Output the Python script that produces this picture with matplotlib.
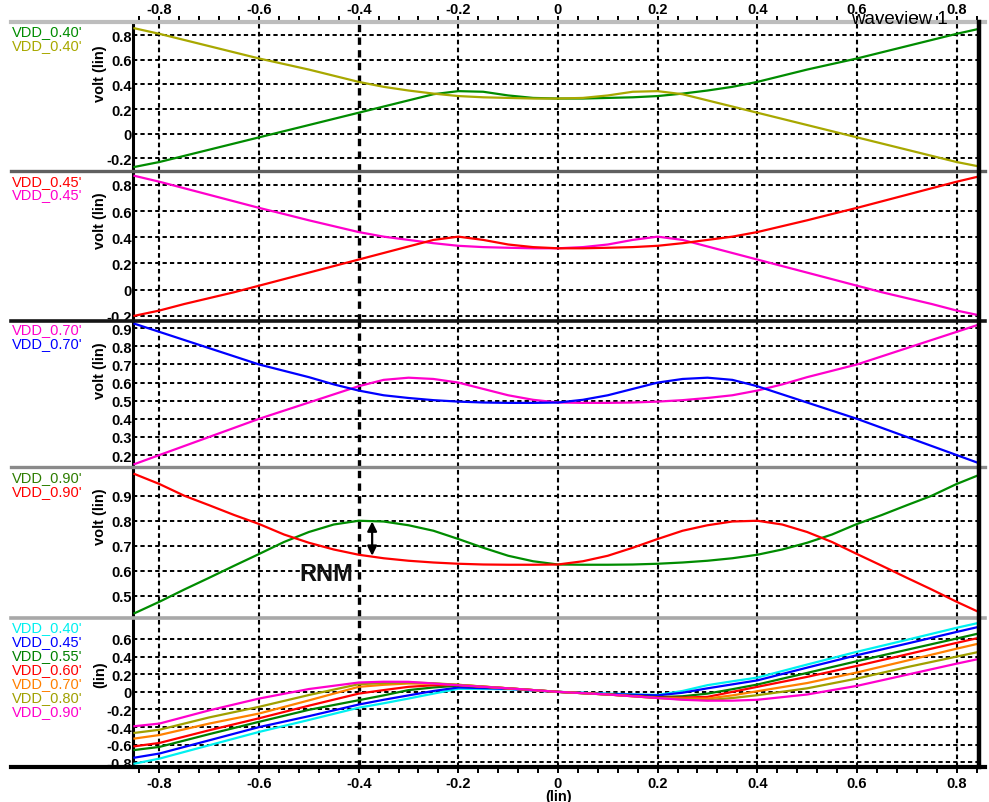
import matplotlib
matplotlib.use("Agg")
import matplotlib.pyplot as plt
from matplotlib.lines import Line2D
from matplotlib.ticker import MultipleLocator, FixedLocator, FuncFormatter

plt.rcParams['font.family'] = ['Liberation Sans', 'DejaVu Sans']
plt.rcParams['axes.unicode_minus'] = False

# ---------------- data ----------------
x_grid = [-0.85, -0.8, -0.75, -0.7, -0.65, -0.6, -0.55, -0.5, -0.45, -0.4, -0.35,
          -0.3, -0.25, -0.2, -0.15, -0.1, -0.05, 0.0, 0.05, 0.1, 0.15, 0.2, 0.25,
          0.3, 0.35, 0.4, 0.45, 0.5, 0.55, 0.6, 0.65, 0.7, 0.75, 0.8, 0.85]

# VDD = 0.40
v040_fall = [0.855, 0.81, 0.76, 0.71, 0.66, 0.61, 0.565, 0.52, 0.47, 0.42, 0.38, 0.35,
             0.325, 0.305, 0.295, 0.29, 0.285, 0.285, 0.29, 0.31, 0.34, 0.345, 0.32, 0.27,
             0.22, 0.17, 0.12, 0.07, 0.02, -0.03, -0.08, -0.13, -0.18, -0.23, -0.27]
v040_rise = [-0.27, -0.23, -0.18, -0.13, -0.08, -0.03, 0.02, 0.07, 0.12, 0.17, 0.22, 0.27,
             0.32, 0.345, 0.34, 0.31, 0.29, 0.285, 0.285, 0.29, 0.295, 0.305, 0.325, 0.35,
             0.38, 0.42, 0.47, 0.52, 0.565, 0.61, 0.66, 0.71, 0.76, 0.81, 0.855]

# VDD = 0.45
v045_fall = [0.87, 0.825, 0.775, 0.725, 0.675, 0.625, 0.578, 0.53, 0.485, 0.44, 0.405, 0.38,
             0.355, 0.335, 0.325, 0.32, 0.316, 0.316, 0.325, 0.345, 0.38, 0.405, 0.38, 0.33,
             0.28, 0.23, 0.18, 0.13, 0.08, 0.03, -0.02, -0.065, -0.11, -0.16, -0.20]
v045_rise = [-0.20, -0.16, -0.11, -0.065, -0.02, 0.03, 0.08, 0.13, 0.18, 0.23, 0.28, 0.33,
             0.38, 0.405, 0.38, 0.345, 0.325, 0.316, 0.316, 0.32, 0.325, 0.335, 0.355, 0.38,
             0.405, 0.44, 0.485, 0.53, 0.578, 0.625, 0.675, 0.725, 0.775, 0.825, 0.87]

# VDD = 0.70
v070_fall = [0.925, 0.88, 0.835, 0.79, 0.745, 0.70, 0.665, 0.63, 0.59, 0.556, 0.53, 0.515,
             0.503, 0.495, 0.49, 0.488, 0.488, 0.49, 0.505, 0.53, 0.565, 0.60, 0.62, 0.627,
             0.615, 0.58, 0.535, 0.49, 0.445, 0.40, 0.35, 0.30, 0.25, 0.20, 0.15]
v070_rise = [0.15, 0.20, 0.25, 0.30, 0.35, 0.40, 0.445, 0.49, 0.535, 0.58, 0.615, 0.627,
             0.62, 0.60, 0.565, 0.53, 0.505, 0.49, 0.488, 0.488, 0.49, 0.495, 0.503, 0.515,
             0.53, 0.556, 0.59, 0.63, 0.665, 0.70, 0.745, 0.79, 0.835, 0.88, 0.925]

# VDD = 0.90
v090_fall = [0.987, 0.947, 0.90, 0.862, 0.823, 0.787, 0.745, 0.712, 0.685, 0.664, 0.65, 0.64,
             0.633, 0.628, 0.625, 0.624, 0.624, 0.625, 0.638, 0.66, 0.692, 0.727, 0.76, 0.782,
             0.797, 0.80, 0.785, 0.755, 0.715, 0.667, 0.62, 0.572, 0.525, 0.476, 0.43]
v090_rise = [0.43, 0.476, 0.525, 0.572, 0.62, 0.667, 0.715, 0.755, 0.785, 0.80, 0.797, 0.782,
             0.76, 0.727, 0.692, 0.66, 0.638, 0.625, 0.624, 0.624, 0.625, 0.628, 0.633, 0.64,
             0.65, 0.664, 0.685, 0.712, 0.745, 0.787, 0.823, 0.862, 0.90, 0.947, 0.987]

# rotated curves for the VDD sweep
x_sweep = [-0.85, -0.8, -0.7, -0.6, -0.5, -0.4, -0.35, -0.3, -0.25, -0.2, -0.1, 0.0, 0.1,
           0.2, 0.25, 0.3, 0.35, 0.4, 0.5, 0.6, 0.7, 0.8, 0.85]
sweep_labels = ["VDD_0.40'", "VDD_0.45'", "VDD_0.55'", "VDD_0.60'",
                "VDD_0.70'", "VDD_0.80'", "VDD_0.90'"]
sweep_040 = [-0.815, -0.758, -0.606, -0.455, -0.319, -0.18, -0.13, -0.076, -0.02, 0.035, 0.03,
             0.0, -0.02, -0.035, 0.01, 0.076, 0.12, 0.162, 0.31, 0.455, 0.59, 0.727, 0.79]
sweep_045 = [-0.747, -0.70, -0.55, -0.40, -0.276, -0.144, -0.09, -0.04, 0.01, 0.05, 0.035,
             0.0, -0.025, -0.04, -0.01, 0.04, 0.085, 0.13, 0.275, 0.416, 0.547, 0.68, 0.745]
sweep_055 = [-0.66, -0.625, -0.48, -0.34, -0.204, -0.095, -0.04, 0.02, 0.05, 0.07, 0.04,
             0.0, -0.03, -0.06, -0.05, -0.02, 0.03, 0.083, 0.215, 0.348, 0.477, 0.605, 0.67]
sweep_060 = [-0.618, -0.58, -0.436, -0.30, -0.157, -0.02, 0.02, 0.057, 0.075, 0.078, 0.04,
             0.0, -0.03, -0.065, -0.065, -0.057, 0.0, 0.057, 0.17, 0.295, 0.425, 0.556, 0.62]
sweep_070 = [-0.53, -0.49, -0.36, -0.246, -0.097, 0.057, 0.08, 0.095, 0.092, 0.08, 0.04,
             0.0, -0.03, -0.07, -0.075, -0.076, -0.04, 0.007, 0.10, 0.22, 0.354, 0.49, 0.555]
sweep_080 = [-0.466, -0.43, -0.29, -0.17, -0.036, 0.087, 0.10, 0.106, 0.098, 0.08, 0.04,
             0.0, -0.03, -0.07, -0.085, -0.095, -0.07, -0.038, 0.04, 0.151, 0.28, 0.40, 0.46]
sweep_090 = [-0.39, -0.36, -0.21, -0.076, 0.032, 0.106, 0.115, 0.114, 0.095, 0.075, 0.04,
             0.0, -0.03, -0.07, -0.09, -0.10, -0.10, -0.09, -0.03, 0.068, 0.194, 0.32, 0.38]

x_ticks = [-0.8, -0.6, -0.4, -0.2, 0.0, 0.2, 0.4, 0.6, 0.8]

# ---------------- colours ----------------
C_GREEN = '#008c00'
C_OLIVE = '#a8a800'
C_RED = '#ff0000'
C_MAG = '#ff00cc'
C_BLUE = '#0000ff'
C_CYAN = '#00f0f0'
C_ORANGE = '#ff8000'
sweep_colors = [C_CYAN, C_BLUE, '#008000', C_RED, C_ORANGE, '#a0a000', C_MAG]

# ---------------- layout (pixels) ----------------
W, H = 989, 803
LEFT, RIGHT = 133, 978
panels_px = [(23, 172), (172, 322), (322, 468), (469, 618), (620, 768)]
XLIM = (-0.853, 0.843)

fig = plt.figure(figsize=(W / 100, H / 100), dpi=100)
fig.patch.set_facecolor('white')


def fx(px):
    return px / W


def fy(py):
    return 1 - py / H


def fmt(v, pos=None):
    if abs(v) < 1e-9:
        return '0'
    return ('%.1f' % v)


panel_specs = [
    dict(ylim=(-0.303, 0.906), yt=[-0.2, 0.0, 0.2, 0.4, 0.6, 0.8],
         curves=[(v040_rise, C_GREEN), (v040_fall, C_OLIVE)],
         legend=[("VDD_0.40'", C_GREEN, 32), ("VDD_0.40'", C_OLIVE, 46)], ylab_y=74,
         ylab='volt (lin)'),
    dict(ylim=(-0.24, 0.907), yt=[-0.2, 0.0, 0.2, 0.4, 0.6, 0.8],
         curves=[(v045_fall, C_MAG), (v045_rise, C_RED)],
         legend=[("VDD_0.45'", C_RED, 182), ("VDD_0.45'", C_MAG, 195)], ylab_y=221,
         ylab='volt (lin)'),
    dict(ylim=(0.134, 0.94), yt=[0.2, 0.3, 0.4, 0.5, 0.6, 0.7, 0.8, 0.9],
         curves=[(v070_rise, C_MAG), (v070_fall, C_BLUE)],
         legend=[("VDD_0.70'", C_MAG, 330), ("VDD_0.70'", C_BLUE, 344)], ylab_y=371,
         ylab='volt (lin)'),
    dict(ylim=(0.415, 1.011), yt=[0.5, 0.6, 0.7, 0.8, 0.9],
         curves=[(v090_rise, C_GREEN), (v090_fall, C_RED)],
         legend=[("VDD_0.90'", '#2e7d00', 478), ("VDD_0.90'", C_RED, 492)], ylab_y=517,
         ylab='volt (lin)'),
    dict(ylim=(-0.853, 0.827), yt=[-0.8, -0.6, -0.4, -0.2, 0.0, 0.2, 0.4, 0.6],
         curves=None,
         legend=[(lab, c, 628 + 14 * i) for i, (lab, c) in enumerate(zip(sweep_labels, sweep_colors))],
         ylab_y=675, ylab='(lin)'),
]

sweep_series = [sweep_040, sweep_045, sweep_055, sweep_060, sweep_070, sweep_080, sweep_090]

axes = []
for i, ((top, bot), spec) in enumerate(zip(panels_px, panel_specs)):
    ax = fig.add_axes([fx(LEFT), fy(bot), fx(RIGHT - LEFT), (bot - top) / H])
    ax.set_facecolor('white')
    ax.set_xlim(*XLIM)
    ax.set_ylim(*spec['ylim'])
    for s in ('top', 'bottom', 'right'):
        ax.spines[s].set_visible(False)
    ax.spines['left'].set_linewidth(2.2)
    ax.spines['left'].set_color('black')

    # grid
    for yv in spec['yt']:
        ax.axhline(yv, color='black', lw=1.4, ls=(0, (2.2, 1.6)), zorder=1)
    for xv in x_ticks:
        lw = 2.4 if abs(xv + 0.4) < 1e-9 else 1.5
        ax.axvline(xv, color='black', lw=lw, ls=(0, (2.2, 1.6)), zorder=1)

    # curves
    if spec['curves'] is not None:
        for ys, c in spec['curves']:
            ax.plot(x_grid, ys, color=c, lw=1.6, zorder=3, clip_on=True)
    else:
        for ys, c in zip(sweep_series, sweep_colors):
            ax.plot(x_sweep, ys, color=c, lw=1.6, zorder=3)

    # y ticks
    ax.yaxis.set_major_locator(FixedLocator(spec['yt']))
    ax.yaxis.set_major_formatter(FuncFormatter(fmt))
    ax.tick_params(axis='y', length=0, pad=1, labelsize=10.5)
    for lbl in ax.get_yticklabels():
        lbl.set_fontweight('bold')

    # x ticks
    ax.xaxis.set_major_locator(FixedLocator(x_ticks))
    ax.xaxis.set_minor_locator(MultipleLocator(0.04))
    ax.xaxis.set_major_formatter(FuncFormatter(fmt))
    if i == 0:
        ax.tick_params(axis='x', which='both', top=True, bottom=False, labeltop=True,
                       labelbottom=False, direction='out', length=4.5, width=1.4,
                       pad=0, labelsize=10.5)
    elif i == 4:
        ax.tick_params(axis='x', which='both', top=False, bottom=True, labeltop=False,
                       labelbottom=True, direction='out', length=4.5, width=1.4,
                       pad=2, labelsize=10.5)
    else:
        ax.tick_params(axis='x', which='both', top=False, bottom=False,
                       labeltop=False, labelbottom=False)
    for lbl in ax.get_xticklabels():
        lbl.set_fontweight('bold')

    # legend text
    for lab, c, yc in spec['legend']:
        fig.text(fx(12), fy(yc), lab, color=c, fontsize=10.5, ha='left', va='center')

    # y axis label
    fig.text(fx(100), fy(spec['ylab_y']), spec['ylab'], rotation=90, fontsize=10.5,
             fontweight='bold', ha='center', va='center')
    axes.append(ax)

# RNM annotation on the VDD = 0.90 panel
ax4 = axes[3]
arrow_x = -0.373
ax4.annotate('', xy=(arrow_x, 0.660), xytext=(arrow_x, 0.797),
             arrowprops=dict(arrowstyle='<|-|>', color='black', lw=1.6,
                             mutation_scale=14, shrinkA=0, shrinkB=0), zorder=5)
ax4.text(-0.465, 0.59, 'RNM', fontsize=17, fontweight='bold', ha='center',
         va='center', color='#111111', zorder=5)

# panel separators and frame
sep_styles = [(23, '#bdbdbd', 3.0), (172, '#606060', 2.4), (322, '#151515', 2.6),
              (468, '#8a8a8a', 2.4), (619, '#a8a8a8', 2.6), (768, '#000000', 3.0)]
for yp, c, lw in sep_styles:
    fig.add_artist(Line2D([fx(11), fx(985)], [fy(yp), fy(yp)], color=c, lw=lw,
                          transform=fig.transFigure, zorder=10))
fig.add_artist(Line2D([fx(RIGHT + 1), fx(RIGHT + 1)], [fy(23), fy(768)], color='black',
                      lw=3.2, transform=fig.transFigure, zorder=10))

# window title and x unit
fig.text(fx(899), fy(19), 'waveview 1', fontsize=13.5, ha='center', va='center',
         color='black', zorder=12)
fig.text(fx(559), fy(797), '(lin)', fontsize=10.5, fontweight='bold', ha='center',
         va='center')

fig.savefig('out.png', dpi=100, facecolor='white')
